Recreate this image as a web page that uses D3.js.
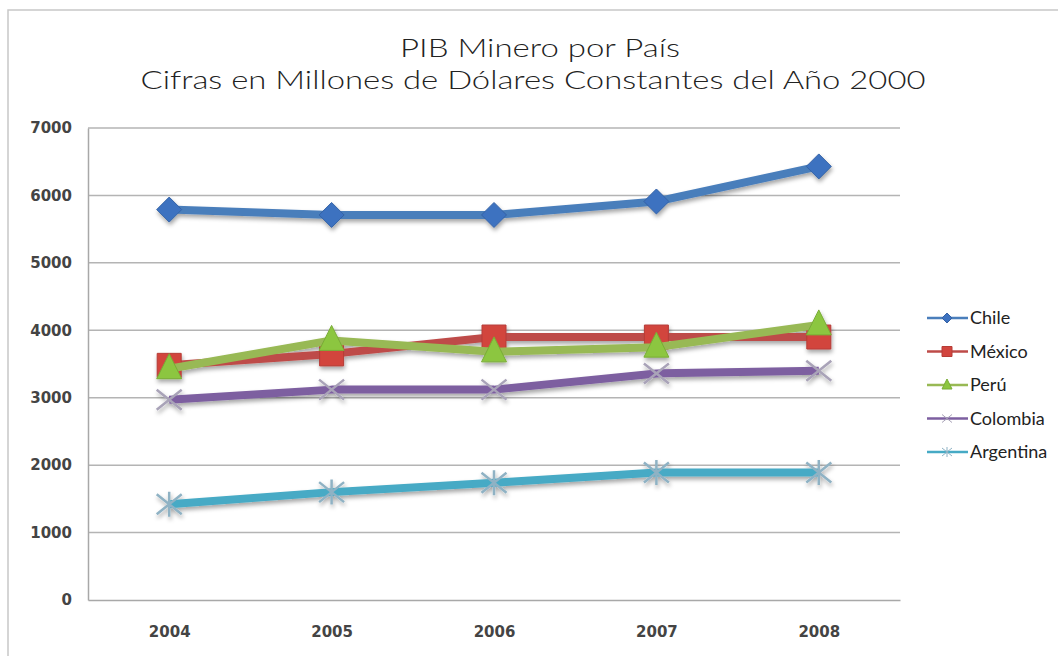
<!DOCTYPE html>
<html>
<head>
<meta charset="utf-8">
<script src="https://cdn.jsdelivr.net/npm/d3@7"></script>
<style>
  body { margin: 0; background: #fff; }
  svg { display: block; }
</style>
</head>
<body>
<div id="chart"></div>
<script>
// data
const years = ["2004", "2005", "2006", "2007", "2008"];
const countries = ["Chile", "México", "Perú", "Colombia", "Argentina"];
const chile     = [5790, 5710, 5710, 5910, 6430];
const mexico    = [3480, 3650, 3900, 3900, 3900];
const peru      = [3430, 3850, 3680, 3750, 4080];
const colombia  = [2970, 3120, 3120, 3360, 3400];
const argentina = [1420, 1600, 1740, 1890, 1890];
const yTicks = [0, 1000, 2000, 3000, 4000, 5000, 6000, 7000];

const W = 1058, H = 656;
const margin = {top: 128, right: 158, bottom: 56, left: 88};

const colors = ["#4a7ebb", "#be4b48", "#98b954", "#7d5fa0", "#46aac5"];
const markerColors = ["#3d72c0", "#d2453e", "#8cc63f", "#a9a3b8", "#8fb2c4"];
const shapes = ["diamond", "square", "triangle", "x", "star"];
const series = [chile, mexico, peru, colombia, argentina];

let svg = d3.select("#chart").append("svg")
    .attr("width", W)
    .attr("height", H);

let defs = svg.append("defs");
defs.append("filter")
    .attr("id", "shadow")
    .attr("x", "-20%").attr("y", "-20%")
    .attr("width", "140%").attr("height", "160%")
  .append("feDropShadow")
    .attr("dx", 1).attr("dy", 3)
    .attr("stdDeviation", 2)
    .attr("flood-color", "#000")
    .attr("flood-opacity", 0.35);

// outer chart border
svg.append("rect")
    .attr("x", 8).attr("y", 10)
    .attr("width", W + 10).attr("height", H + 10)
    .attr("fill", "#fff")
    .attr("stroke", "#c8c8c8")
    .attr("stroke-width", 1.5);

// title, two lines
let title = svg.append("text")
    .attr("text-anchor", "middle")
    .style("font-family", "Lato, 'Open Sans', sans-serif")
    .style("font-weight", 300)
    .style("font-size", "26px")
    .attr("fill", "#222");
title.append("tspan").attr("x", 540).attr("y", 57)
    .attr("textLength", 280).attr("lengthAdjust", "spacingAndGlyphs")
    .text("PIB Minero por País");
title.append("tspan").attr("x", 533).attr("y", 89)
    .attr("textLength", 785).attr("lengthAdjust", "spacingAndGlyphs")
    .text("Cifras en Millones de Dólares Constantes del Año 2000");

let x = d3.scalePoint()
    .domain(years)
    .range([margin.left, W - margin.right])
    .padding(0.5);

let y = d3.scaleLinear()
    .domain([0, 7000])
    .range([H - margin.bottom, margin.top]);

// gridlines
svg.append("g")
  .selectAll("line")
  .data(yTicks.slice(1))
  .enter().append("line")
    .attr("x1", margin.left).attr("x2", W - margin.right)
    .attr("y1", d => y(d)).attr("y2", d => y(d))
    .attr("stroke", "#b4b4b4")
    .attr("stroke-width", 1.5);

// axes
let yAxis = svg.append("g")
    .attr("transform", `translate(${margin.left},0)`)
    .call(d3.axisLeft(y).tickValues(yTicks).tickSize(0).tickPadding(16).tickFormat(d3.format("d")));
let xAxis = svg.append("g")
    .attr("transform", `translate(0,${H - margin.bottom})`)
    .call(d3.axisBottom(x).tickSize(0).tickPadding(26));
[yAxis, xAxis].forEach(a => {
  a.select(".domain").attr("stroke", "#a8a8a8").attr("stroke-width", 1.5);
  a.selectAll("text")
    .style("font-family", "'DejaVu Sans', Verdana, sans-serif")
    .style("font-size", "15px")
    .style("font-weight", "bold")
    .attr("fill", "#444");
});

function markerPath(shape, s) {
  if (shape === "diamond") return `M0,${-s}L${s},0L0,${s}L${-s},0Z`;
  if (shape === "square") return `M${-s},${-s}H${s}V${s}H${-s}Z`;
  if (shape === "triangle") return `M0,${-s * 1.2}L${s},${s * 0.8}L${-s},${s * 0.8}Z`;
  if (shape === "x") return `M${-s},${-s * 0.8}L${s},${s * 0.8}M${-s},${s * 0.8}L${s},${-s * 0.8}`;
  return `M${-s},${-s * 0.8}L${s},${s * 0.8}M${-s},${s * 0.8}L${s},${-s * 0.8}M0,${-s}V${s}`;
}

let line = d3.line()
    .x((d, i) => x(years[i]))
    .y(d => y(d));

let plot = svg.append("g").attr("filter", "url(#shadow)");

series.forEach(function (vals, k) {
  let g = plot.append("g");
  g.append("path")
    .datum(vals)
    .attr("d", line)
    .attr("fill", "none")
    .attr("stroke", colors[k])
    .attr("stroke-width", 8)
    .attr("stroke-linejoin", "round");
  let open = shapes[k] === "x" || shapes[k] === "star";
  g.selectAll("path.m")
    .data(vals)
    .enter().append("path")
      .attr("class", "m")
      .attr("transform", (d, i) => `translate(${x(years[i])},${y(d)})`)
      .attr("d", markerPath(shapes[k], shapes[k] === "square" ? 12 : 12.5))
      .attr("fill", open ? "none" : markerColors[k])
      .attr("stroke", open ? markerColors[k] : d3.color(markerColors[k]).darker(0.4))
      .attr("stroke-width", open ? 2.5 : 1);
});

// legend
let legend = svg.append("g");
countries.forEach(function (name, k) {
  let ly = 318 + k * 33.5;
  let lg = legend.append("g");
  lg.append("line")
    .attr("x1", 927).attr("x2", 968)
    .attr("y1", ly).attr("y2", ly)
    .attr("stroke", colors[k])
    .attr("stroke-width", 2.5);
  let open = shapes[k] === "x" || shapes[k] === "star";
  lg.append("path")
    .attr("transform", `translate(947,${ly})`)
    .attr("d", markerPath(shapes[k], 5))
    .attr("fill", open ? "none" : markerColors[k])
    .attr("stroke", open ? markerColors[k] : d3.color(markerColors[k]).darker(0.4))
    .attr("stroke-width", 1);
  lg.append("text")
    .attr("x", 970).attr("y", ly + 6)
    .style("font-family", "Lato, 'Open Sans', sans-serif")
    .style("font-size", "18px")
    .attr("fill", "#222")
    .text(name);
});
</script>
</body>
</html>
